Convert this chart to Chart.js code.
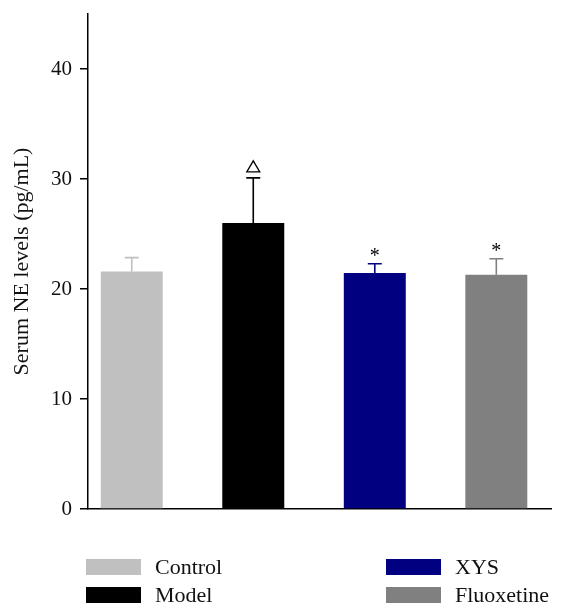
<!DOCTYPE html>
<html>
<head>
<meta charset="utf-8">
<script src="https://cdn.jsdelivr.net/npm/chart.js@4.4.1/dist/chart.umd.min.js"></script>
<style>
  body { margin: 0; background: #fff; }
  #wrap { position: relative; width: 565px; height: 616px; }
  .leg { position: absolute; font-family: "Liberation Serif", serif; font-size: 22px; color: #111; line-height: 16px; }
  .leg span { display: inline-block; width: 55px; height: 16px; vertical-align: top; margin-right: 14px; }
</style>
</head>
<body>
<div id="wrap">
  <canvas id="neChart" width="565" height="616"></canvas>
</div>
<script>
// data
var groups = ['Control', 'Model', 'XYS', 'Fluoxetine'];
var meanValues = [21.6, 26.0, 21.45, 21.3];
var errorValues = [1.25, 4.1, 0.85, 1.45];
var markers = ['', 'triangle', '*', '*'];
var yTicks = [0, 10, 20, 30, 40];
var colors = ['#c0c0c0', '#000000', '#000080', '#808080'];

// error bars + significance marks
var errorBarPlugin = {
    id: 'errorBars',
    afterDatasetsDraw: function(chart) {
        var ctx = chart.ctx;
        var x = chart.scales.x, y = chart.scales.y;
        ctx.save();
        groups.forEach(function(g, i) {
            var px = x.getPixelForValue(i);
            var top = y.getPixelForValue(meanValues[i]);
            var cap = y.getPixelForValue(meanValues[i] + errorValues[i]);
            ctx.strokeStyle = colors[i];
            ctx.lineWidth = 1.6;
            ctx.beginPath();
            ctx.moveTo(px, top);
            ctx.lineTo(px, cap);
            ctx.moveTo(px - 7, cap);
            ctx.lineTo(px + 7, cap);
            ctx.stroke();

            if (markers[i] === 'triangle') {
                ctx.strokeStyle = '#000';
                ctx.lineWidth = 1.3;
                ctx.beginPath();
                ctx.moveTo(px - 6.5, cap - 6);
                ctx.lineTo(px + 6.5, cap - 6);
                ctx.lineTo(px, cap - 17);
                ctx.closePath();
                ctx.stroke();
            } else if (markers[i]) {
                ctx.fillStyle = '#000';
                ctx.font = '20px "Liberation Serif", serif';
                ctx.textAlign = 'center';
                ctx.textBaseline = 'alphabetic';
                ctx.fillText(markers[i], px, cap - 2);
            }
        });
        ctx.restore();
    }
};

var chart = new Chart(document.getElementById('neChart').getContext('2d'), {
    type: 'bar',
    data: {
        datasets: [{
            data: meanValues.map(function(v, i) { return { x: i, y: v }; }),
            backgroundColor: colors,
            borderWidth: 0,
            barPercentage: 0.51,
            categoryPercentage: 1
        }]
    },
    options: {
        responsive: false,
        animation: false,
        layout: { padding: { top: 14, right: 14, left: 0, bottom: 0 } },
        plugins: { legend: { display: false }, tooltip: { enabled: false } },
        scales: {
            x: {
                type: 'linear',
                offset: false,
                min: -0.36,
                max: 3.45,
                afterBuildTicks: function(s) {
                    s.ticks = groups.map(function(g, i) { return { value: i }; });
                },
                grid: { display: false },
                ticks: { display: false },
                border: { display: true, color: '#000', width: 1.5 },
                afterFit: function(s) { s.height = 107; }
            },
            y: {
                min: 0,
                max: 45,
                afterBuildTicks: function(s) {
                    s.ticks = s.ticks.filter(function(t) { return yTicks.indexOf(t.value) >= 0; });
                },
                ticks: {
                    stepSize: 10,
                    padding: 8,
                    color: '#111',
                    font: { family: '"Liberation Serif", serif', size: 21 }
                },
                grid: { drawOnChartArea: false, drawTicks: true, tickLength: 8, color: '#000', lineWidth: 1.5 },
                border: { display: true, color: '#000', width: 1.5 },
                title: {
                    display: true,
                    text: 'Serum NE levels (pg/mL)',
                    color: '#111',
                    font: { family: '"Liberation Serif", serif', size: 22 },
                    padding: { top: 9, bottom: 0 }
                },
                afterFit: function(s) {
                    s.width = 88;
                    s.paddingTop = 0;
                    s.paddingBottom = 0;
                }
            }
        }
    },
    plugins: [errorBarPlugin]
});

// legend, two columns
var legPos = [[86, 559], [86, 587], [386, 559], [386, 587]];
var wrap = document.getElementById('wrap');
groups.forEach(function(g, i) {
    var d = document.createElement('div');
    d.className = 'leg';
    d.style.left = legPos[i][0] + 'px';
    d.style.top = legPos[i][1] + 'px';
    d.innerHTML = '<span style="background:' + colors[i] + '"></span>' + g;
    wrap.appendChild(d);
});
</script>
</body>
</html>
